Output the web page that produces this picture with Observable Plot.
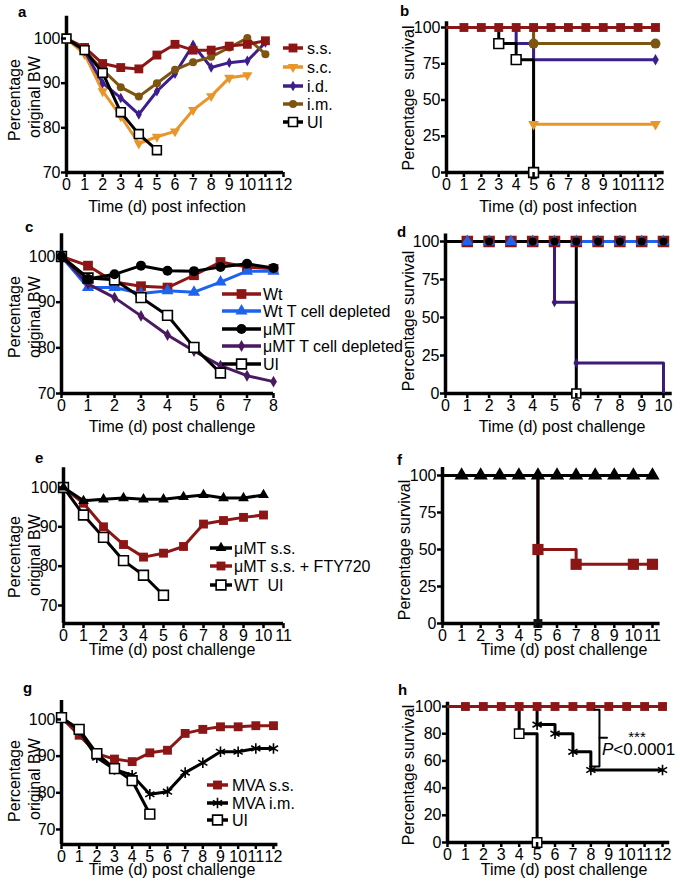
<!DOCTYPE html>
<html><head><meta charset="utf-8">
<script src="https://cdn.jsdelivr.net/npm/d3@7"></script>
<script src="https://cdn.jsdelivr.net/npm/@observablehq/plot@0.6"></script>
<style>
html,body{margin:0;padding:0;background:#fff;}
#root{position:relative;width:680px;height:884px;overflow:hidden;background:#fff;}
</style></head>
<body><div id="root"></div>
<script>
// ---------- DATA ----------
// Panel a: body weight (% original) after infection
const aDays   = [0,1,2,3,4,5,6,7,8,9,10,11];
const aSS     = [100,98,94.4,93.5,93.2,96.3,98.7,97.4,97.4,98.3,98.7,99.5];
const aSCdays = [0,1,2,3,4,5,6,7,8,9,10];
const aSC     = [100,96.5,88.2,82.6,76.5,78,79.2,84,87.1,91.2,91.8];
const aID     = [100,97.2,90,86.7,83,88.2,92.1,98.6,93.5,94.6,95,99.1];
const aIM     = [100,97.2,93,89.1,87,90,93,94.7,95.9,98,100.1,96.5];
const aUIdays = [0,1,2,3,4,5];
const aUI     = [100,97.4,92.3,83.5,78.6,75];
const aLabels = ["s.s.","s.c.","i.d.","i.m.","UI"];

// Panel b: survival after infection (Kaplan-Meier steps)
const bTimesSS = [0,12],        bSurvSS = [100,100],            bMarkSS = [1,2,3,4,5,6,7,8,9,10,11,12];
const bTimesSC = [0,5,12],      bSurvSC = [100,33.3,33.3],      bMarkSC = [5,12];
const bTimesID = [0,4,5,12],    bSurvID = [100,88.9,77.8,77.8], bMarkID = [12];
const bTimesIM = [0,5,12],      bSurvIM = [100,88.9,88.9],      bMarkIM = [5,12];
const bTimesUI = [0,3,4,5],     bSurvUI = [100,88.9,77.8,0],    bMarkUI = [3,4,5];

// Panel c: body weight after challenge
const cDays   = [0,1,2,3,4,5,6,7,8];
const cWt     = [100,98,94.4,93.5,93.2,95.9,98.8,97.7,97.3];
const cWtT    = [100,93.2,93.2,91.9,92.5,92.2,94.4,96.8,96.8];
const cMu     = [100,95.1,96.1,98,96.9,96.8,97.7,98.4,97.5];
const cMuT    = [100,94,91,87,82.8,79.3,76.1,73.9,72.6];
const cUIdays = [0,1,2,3,4,5,6];
const cUI     = [100,95.3,94.9,91,87.1,80.1,74.5];
const cLabels = ["Wt","Wt T cell depleted","\u03bcMT","\u03bcMT T cell depleted","UI"];

// Panel d: survival after challenge
const dTimesWt  = [0,10],       dSurvWt  = [100,100],        dMarkWt  = [1,2,3,4,5,6,7,8,9,10];
const dTimesWtT = [0,10],       dSurvWtT = [100,100],        dMarkWtT = [1,2,3,4,5,6,7,8,9,10];
const dTimesMu  = [0,10],       dSurvMu  = [100,100],        dMarkMu  = [2,4,5,6,7,8,9,10];
const dTimesMuT = [0,5,6,10],   dSurvMuT = [100,60,20,0],    dMarkMuT = [5,6];
const dTimesUI  = [0,6],        dSurvUI  = [100,0],          dMarkUI  = [6];

// Panel e: body weight after challenge
const eDays   = [0,1,2,3,4,5,6,7,8,9,10];
const eMu     = [100,96.6,97,97.3,97,97,97.6,98.1,97.3,97.3,98.1];
const eFTY    = [100,96,90,85.5,82.3,83.3,85,90.7,91.6,92.4,93];
const eUIdays = [0,1,2,3,4,5];
const eUI     = [100,93,87.3,81.4,77.7,72.6];
const eLabels = ["\u03bcMT s.s.","\u03bcMT s.s. + FTY720","WT  UI"];

// Panel f: survival after challenge
const fTimesMu  = [0,11],       fSurvMu  = [100,100],        fMarkMu  = [1,2,3,4,5,6,7,8,9,10,11];
const fTimesFTY = [0,5,7,11],   fSurvFTY = [100,50,40,40],   fMarkFTY = [5,7,10,11];
const fTimesUI  = [0,5],        fSurvUI  = [100,0],          fMarkUI  = [5];

// Panel g: body weight after challenge
const gDays   = [0,1,2,3,4,5,6,7,8,9,10,11,12];
const gSS     = [100.5,95.7,90.7,89.2,88.5,90.9,91.6,96.2,97.3,98,98,98.3,98.3];
const gIM     = [100.5,97.1,89.6,86.4,84.8,79.6,80.3,85.5,88.2,91.2,91.2,92.1,92.1];
const gUIdays = [0,1,2,3,4,5];
const gUI     = [100.5,97.3,90.7,86.6,83.3,74.2];
const gLabels = ["MVA s.s.","MVA i.m.","UI"];

// Panel h: survival after challenge
const hTimesSS = [0,12],          hSurvSS = [100,100],                  hMarkSS = [1,2,3,4,5,6,7,8,9,10,11,12];
const hTimesIM = [0,5,6,7,8,12],  hSurvIM = [100,86.7,80,66.7,53.3,53.3], hMarkIM = [5,6,7,8,12];
const hTimesUI = [0,4,5],         hSurvUI = [100,80,0],                 hMarkUI = [4,5];
const hBracketX = [8.2,8.48,8.48,7.95], hBracketY = [97.6,97.6,55.9,55.9];
const hTickX = [8.48,8.9], hTickY = [77,77];

const ticks0to = {8:[0,1,2,3,4,5,6,7,8],10:[0,1,2,3,4,5,6,7,8,9,10],11:[0,1,2,3,4,5,6,7,8,9,10,11],12:[0,1,2,3,4,5,6,7,8,9,10,11,12]};
const bwTicks = [70,80,90,100];
const survTicks4 = [0,25,50,75,100];
const survTicks5 = [0,20,40,60,80,100];

// ---------- STYLE ----------
const FONT = "'Liberation Sans', Arial, Helvetica, sans-serif";
const RED = "#8c1515", ORANGE = "#e8962a", INDIGO = "#3c1e8c", BROWN = "#7d5510",
      BLUE = "#1e63ef", PURPLE = "#4a1a60", PURPLE_D = "#3c1a78", BLACK = "#000";

const triDown = { draw(ctx, size) {
  const y = Math.sqrt(size / (Math.sqrt(3) * 3)), s3 = Math.sqrt(3);
  ctx.moveTo(0, 2 * y); ctx.lineTo(-s3 * y, -y); ctx.lineTo(s3 * y, -y); ctx.closePath();
}};
const symMap = {square: d3.symbolSquare, circle: d3.symbolCircle, diamond: d3.symbolDiamond,
  triangle: d3.symbolTriangle, asterisk: d3.symbolAsterisk};
const S = (symbol, r, fill, stroke = "none", strokeWidth = 0) => ({symbol, r, fill, stroke, strokeWidth});

const root = document.getElementById("root");

function place(el, left, top) {
  el.style.position = "absolute"; el.style.left = left + "px"; el.style.top = top + "px";
  root.appendChild(el);
}

function panel(cfg, marks) {
  const {left, top, width, height, mL, mR, mT, mB, xDom, yDom, xTicks, yTicks} = cfg;
  const svg = Plot.plot({
    width, height, marginLeft: mL, marginRight: mR, marginTop: mT, marginBottom: mB,
    style: {background: "transparent", fontFamily: FONT, fontSize: "16px", color: "black", overflow: "visible"},
    x: {domain: xDom}, y: {domain: yDom},
    marks: [
      Plot.ruleX([xDom[0]], {stroke: BLACK, strokeWidth: 3.5}),
      Plot.ruleY([yDom[0]], {stroke: BLACK, strokeWidth: 3.5}),
      ...marks,
      Plot.axisX({ticks: xTicks, tickSize: 5, tickPadding: 1, strokeWidth: 2.5, fontSize: 16, label: null, tickFormat: d => String(d)}),
      Plot.axisY({ticks: yTicks, tickSize: 5, tickPadding: 1, strokeWidth: 2.5, fontSize: 16, label: null, tickFormat: d => String(d)})
    ]
  });
  place(svg, left, top);
}

function wSeries(days, vals, color, sym) {
  const data = days.map((d, i) => ({x: d, y: vals[i]}));
  return [
    Plot.line(data, {x: "x", y: "y", stroke: color, strokeWidth: 3}),
    Plot.dot(data, {x: "x", y: "y", ...sym})
  ];
}
function survAt(times, surv, t) {
  let v = surv[0];
  for (let i = 0; i < times.length; i++) if (times[i] <= t) v = surv[i];
  return v;
}
function kmLine(times, surv, color, sw = 3) {
  return Plot.line(times.map((t, i) => ({x: t, y: surv[i]})),
    {x: "x", y: "y", curve: "step-after", stroke: color, strokeWidth: sw});
}
function kmDots(times, surv, days, sym) {
  return Plot.dot(days.map(d => ({x: d, y: survAt(times, surv, d)})), {x: "x", y: "y", ...sym});
}

// symbol specs
const symA = {
  ss: S("square", 5, RED), sc: S(triDown, 3.8, ORANGE), id: S("diamond", 3.2, INDIGO),
  im: S("circle", 4, BROWN), ui: S("square", 5, "white", BLACK, 1.6)
};

// ---------- PANELS ----------
// a
panel({left: 0, top: 0, width: 340, height: 200, mL: 66, mR: 57, mT: 15.7, mB: 28,
  xDom: [0, 12], yDom: [70, 105], xTicks: ticks0to[12], yTicks: bwTicks}, [
  ...wSeries(aSCdays, aSC, ORANGE, symA.sc),
  ...wSeries(aDays, aID, INDIGO, symA.id),
  ...wSeries(aDays, aIM, BROWN, symA.im),
  ...wSeries(aDays, aSS, RED, symA.ss),
  ...wSeries(aUIdays, aUI, BLACK, symA.ui)
]);

// b
panel({left: 340, top: 0, width: 340, height: 200, mL: 106, mR: 16.3, mT: 21.2, mB: 28,
  xDom: [0, 12.5], yDom: [0, 104], xTicks: ticks0to[12], yTicks: survTicks4}, [
  kmLine(bTimesSC, bSurvSC, ORANGE),
  kmLine(bTimesIM, bSurvIM, BROWN),
  kmLine(bTimesID, bSurvID, INDIGO),
  kmLine(bTimesUI, bSurvUI, BLACK),
  kmLine(bTimesSS, bSurvSS, RED),
  kmDots(bTimesSC, bSurvSC, bMarkSC, S(triDown, 4, ORANGE)),
  kmDots(bTimesIM, bSurvIM, bMarkIM, S("circle", 5, BROWN)),
  kmDots(bTimesID, bSurvID, bMarkID, S("diamond", 3.5, INDIGO)),
  kmDots(bTimesSS, bSurvSS, bMarkSS, S("square", 5, RED)),
  kmDots(bTimesUI, bSurvUI, bMarkUI, S("square", 5.5, "white", BLACK, 1.6))
]);

// c
panel({left: 0, top: 215, width: 340, height: 205, mL: 61, mR: 67, mT: 18.2, mB: 27,
  xDom: [0, 8], yDom: [70, 105], xTicks: ticks0to[8], yTicks: bwTicks}, [
  ...wSeries(cDays, cWt, RED, S("square", 5.5, RED)),
  ...wSeries(cDays, cWtT, BLUE, S("triangle", 4.5, BLUE)),
  ...wSeries(cDays, cMuT, PURPLE, S("diamond", 3.6, PURPLE)),
  ...wSeries(cUIdays, cUI, BLACK, S("square", 5.5, "white", BLACK, 1.6)),
  ...wSeries(cDays, cMu, BLACK, S("circle", 5, BLACK))
]);

// d
panel({left: 340, top: 215, width: 340, height: 205, mL: 105, mR: 8.3, mT: 18.4, mB: 27,
  xDom: [0, 10.4], yDom: [0, 105], xTicks: ticks0to[10], yTicks: survTicks4}, [
  kmLine(dTimesWt, dSurvWt, RED),
  kmLine(dTimesMu, dSurvMu, BLACK),
  kmLine(dTimesWtT, dSurvWtT, BLUE),
  kmLine(dTimesMuT, dSurvMuT, PURPLE_D),
  kmLine(dTimesUI, dSurvUI, BLACK),
  kmDots(dTimesWt, dSurvWt, dMarkWt, S("square", 6.5, RED)),
  kmDots(dTimesWtT, dSurvWtT, dMarkWtT, S("triangle", 4.5, BLUE)),
  kmDots(dTimesMu, dSurvMu, dMarkMu, S("circle", 4, BLACK)),
  kmDots(dTimesMuT, dSurvMuT, dMarkMuT, S("diamond", 3, PURPLE_D)),
  kmDots(dTimesUI, dSurvUI, dMarkUI, S("square", 5, "white", BLACK, 1.6))
]);

// e
panel({left: 0, top: 445, width: 340, height: 205, mL: 63, mR: 57, mT: 22.3, mB: 26.9,
  xDom: [0, 11], yDom: [65.4, 105], xTicks: ticks0to[11], yTicks: bwTicks}, [
  ...wSeries(eDays, eFTY, RED, S("square", 5, RED)),
  ...wSeries(eUIdays, eUI, BLACK, S("square", 5.5, "white", BLACK, 1.6)),
  ...wSeries(eDays, eMu, BLACK, S("triangle", 4, BLACK))
]);

// f
panel({left: 340, top: 445, width: 340, height: 205, mL: 102, mR: 20.4, mT: 22, mB: 27,
  xDom: [0, 11.4], yDom: [0, 105.4], xTicks: ticks0to[11], yTicks: survTicks4}, [
  kmLine(fTimesFTY, fSurvFTY, RED),
  kmLine(fTimesUI, fSurvUI, BLACK),
  kmLine(fTimesMu, fSurvMu, BLACK),
  kmDots(fTimesFTY, fSurvFTY, fMarkFTY, S("square", 6.3, RED)),
  kmDots(fTimesUI, fSurvUI, fMarkUI, S("square", 5, "#111")),
  kmDots(fTimesMu, fSurvMu, fMarkMu, S("triangle", 5.3, BLACK))
]);

// g
panel({left: 0, top: 684, width: 340, height: 200, mL: 61, mR: 62.6, mT: 15.9, mB: 40,
  xDom: [0, 12.25], yDom: [65.9, 105.2], xTicks: ticks0to[12], yTicks: bwTicks}, [
  ...wSeries(gDays, gSS, RED, S("square", 5, RED)),
  ...wSeries(gDays, gIM, BLACK, S("asterisk", 5, "none", BLACK, 1.6)),
  ...wSeries(gUIdays, gUI, BLACK, S("square", 5.5, "white", BLACK, 1.6))
]);

// h
panel({left: 340, top: 684, width: 340, height: 200, mL: 107, mR: 10.8, mT: 17.65, mB: 42,
  xDom: [0, 12.4], yDom: [0, 103.2], xTicks: ticks0to[12], yTicks: survTicks5}, [
  kmLine(hTimesUI, hSurvUI, BLACK),
  kmLine(hTimesIM, hSurvIM, BLACK),
  kmLine(hTimesSS, hSurvSS, RED),
  kmDots(hTimesIM, hSurvIM, hMarkIM, S("asterisk", 5, "none", BLACK, 1.6)),
  kmDots(hTimesUI, hSurvUI, hMarkUI, S("square", 5.3, "white", BLACK, 1.4)),
  kmDots(hTimesSS, hSurvSS, hMarkSS, S("square", 5, RED)),
  Plot.line(hBracketX.map((x, i) => ({x, y: hBracketY[i]})), {x: "x", y: "y", stroke: BLACK, strokeWidth: 2}),
  Plot.line(hTickX.map((x, i) => ({x, y: hTickY[i]})), {x: "x", y: "y", stroke: BLACK, strokeWidth: 2})
]);

// ---------- TEXT OVERLAY (panel letters, axis titles, legends) ----------
const ov = d3.create("svg").attr("width", 680).attr("height", 884)
  .style("position", "absolute").style("left", "0px").style("top", "0px")
  .style("pointer-events", "none").style("font-family", FONT).style("overflow", "visible");

function txt(x, y, s, o = {}) {
  const t = ov.append("text").attr("font-size", o.size || 16)
    .attr("text-anchor", o.anchor || "start").attr("fill", "black")
    .style("white-space", "pre").text(s);
  if (o.weight) t.attr("font-weight", o.weight);
  if (o.italic) t.attr("font-style", "italic");
  if (o.rot) { t.attr("transform", `translate(${x},${y}) rotate(-90)`).attr("text-anchor", "middle"); }
  else t.attr("x", x).attr("y", y);
  return t;
}

// panel letters
[["a",18,17],["b",400,16],["c",25,232],["d",397,237],["e",35,463],["f",397,465],["g",23,693],["h",398,695]]
  .forEach(([s, x, y]) => txt(x, y, s, {size: 15, weight: "bold"}));

// y axis titles
[[100,97],[317,317],[557,555],[781,779]].forEach(([y1, y2]) => {
  txt(20, y1, "Percentage", {rot: true});
  txt(40, y2, "original BW", {rot: true});
});
txt(414, 98, "Percentage  survival", {rot: true});
txt(414, 321, "Percentage survival", {rot: true});
txt(410, 550, "Percentage survival", {rot: true});
txt(414, 775, "Percentage survival", {rot: true});

// x axis titles
txt(167, 212, "Time (d) post infection", {anchor: "middle"});
txt(558, 212, "Time (d) post infection", {anchor: "middle"});
txt(172, 432, "Time (d) post challenge", {anchor: "middle"});
txt(562, 432, "Time (d) post challenge", {anchor: "middle"});
txt(172, 655, "Time (d) post challenge", {anchor: "middle"});
txt(564, 655, "Time (d) post challenge", {anchor: "middle"});
txt(172, 875, "Time (d) post challenge", {anchor: "middle"});
txt(564, 875, "Time (d) post challenge", {anchor: "middle"});

// significance
txt(637, 742, "***", {anchor: "middle", size: 15});
const pt = ov.append("text").attr("x", 602).attr("y", 755).attr("font-size", 17).attr("fill", "black");
pt.append("tspan").attr("font-style", "italic").text("P");
pt.append("tspan").text("<0.0001");

// legends
function legend(x0, x1, xText, rows) {
  rows.forEach(r => {
    ov.append("line").attr("x1", x0).attr("x2", x1).attr("y1", r.y).attr("y2", r.y)
      .attr("stroke", r.color).attr("stroke-width", 3.5);
    const type = typeof r.sym.symbol === "string" ? symMap[r.sym.symbol] : r.sym.symbol;
    ov.append("path").attr("d", d3.symbol(type, r.sym.r * r.sym.r * Math.PI)())
      .attr("transform", `translate(${(x0 + x1) / 2},${r.y})`)
      .attr("fill", r.sym.fill).attr("stroke", r.sym.stroke).attr("stroke-width", r.sym.strokeWidth);
    txt(xText, r.y + 5.7, r.label);
  });
}
legend(283, 303, 307, [
  {y: 48, label: aLabels[0], color: RED, sym: symA.ss},
  {y: 67, label: aLabels[1], color: ORANGE, sym: symA.sc},
  {y: 86, label: aLabels[2], color: INDIGO, sym: symA.id},
  {y: 104, label: aLabels[3], color: BROWN, sym: symA.im},
  {y: 122, label: aLabels[4], color: BLACK, sym: symA.ui}
]);
legend(222, 261, 263, [
  {y: 294, label: cLabels[0], color: RED, sym: S("square", 5.5, RED)},
  {y: 311, label: cLabels[1], color: BLUE, sym: S("triangle", 4.5, BLUE)},
  {y: 329, label: cLabels[2], color: BLACK, sym: S("circle", 5, BLACK)},
  {y: 346, label: cLabels[3], color: PURPLE, sym: S("diamond", 3.6, PURPLE)},
  {y: 364, label: cLabels[4], color: BLACK, sym: S("square", 5.5, "white", BLACK, 1.6)}
]);
legend(210, 232, 234, [
  {y: 548, label: eLabels[0], color: BLACK, sym: S("triangle", 4, BLACK)},
  {y: 566, label: eLabels[1], color: RED, sym: S("square", 5, RED)},
  {y: 585, label: eLabels[2], color: BLACK, sym: S("square", 5.5, "white", BLACK, 1.6)}
]);
legend(207, 228, 232, [
  {y: 785, label: gLabels[0], color: RED, sym: S("square", 5, RED)},
  {y: 803, label: gLabels[1], color: BLACK, sym: S("asterisk", 5, "none", BLACK, 1.6)},
  {y: 820, label: gLabels[2], color: BLACK, sym: S("square", 5.5, "white", BLACK, 1.6)}
]);

root.appendChild(ov.node());
</script>
</body></html>
